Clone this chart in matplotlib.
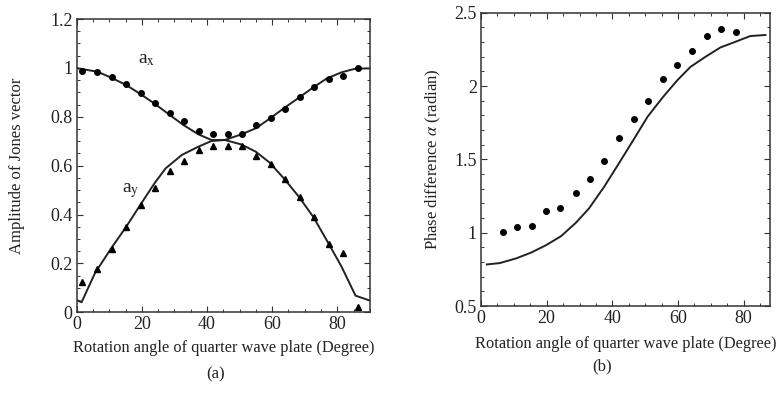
import matplotlib
matplotlib.use("Agg")
import matplotlib.pyplot as plt
from matplotlib.ticker import MultipleLocator

plt.rcParams['font.family'] = ['Liberation Serif', 'DejaVu Serif']
plt.rcParams['mathtext.fontset'] = 'stix'

# ---- panel (a): amplitude of Jones vector ----
angle_a = [1.7, 6.2, 10.7, 15.1, 19.6, 24.0, 28.5, 33.0, 37.4, 41.9,
           46.3, 50.8, 55.2, 59.7, 64.1, 68.6, 73.0, 77.5, 81.9, 86.4]
ax_meas = [0.989, 0.985, 0.964, 0.934, 0.896, 0.858, 0.814, 0.783, 0.743, 0.728,
           0.728, 0.728, 0.766, 0.794, 0.830, 0.880, 0.920, 0.956, 0.968, 0.998]
ay_meas = [0.125, 0.176, 0.258, 0.348, 0.439, 0.510, 0.580, 0.619, 0.664, 0.680,
           0.680, 0.682, 0.640, 0.605, 0.545, 0.473, 0.389, 0.280, 0.241, 0.020]

ax_curve_x = [0, 0.5, 6.5, 10.6, 15.2, 19.7, 24.2, 28.3, 32.8, 37.4, 41.4, 44.9,
              45.5, 50.5, 55.0, 59.1, 63.6, 68.2, 72.7, 76.8, 81.3, 85.3, 88.9, 90]
ax_curve_y = [1.0, 0.998, 0.984, 0.960, 0.930, 0.892, 0.851, 0.810, 0.766, 0.728, 0.705, 0.705,
              0.705, 0.728, 0.753, 0.791, 0.835, 0.878, 0.921, 0.957, 0.982, 0.996, 0.998, 0.998]

ay_curve_x = [0, 1.5, 5.6, 10.6, 15.2, 19.7, 24.0, 27.3, 32.3, 37.4, 41.4, 45.5,
              50.5, 55.0, 59.1, 63.6, 68.2, 72.7, 77.3, 81.3, 85.6, 88.9, 90]
ay_curve_y = [0.050, 0.041, 0.160, 0.262, 0.350, 0.443, 0.530, 0.589, 0.644, 0.678, 0.701, 0.705,
              0.687, 0.657, 0.614, 0.548, 0.473, 0.389, 0.282, 0.187, 0.068, 0.053, 0.048]

# ---- panel (b): phase difference ----
angle_b = [6.6, 10.9, 15.4, 19.8, 24.2, 28.8, 33.2, 37.6, 42.1, 46.6,
           50.9, 55.5, 59.8, 64.3, 68.9, 73.2, 77.7]
phase_meas = [1.005, 1.036, 1.045, 1.145, 1.166, 1.268, 1.366, 1.489, 1.648, 1.777,
              1.898, 2.048, 2.141, 2.240, 2.340, 2.389, 2.367]

phase_curve_x = [1.8, 5.7, 10.7, 15.3, 19.8, 24.4, 28.9, 32.9, 37.5, 42.0, 46.7,
                 50.7, 55.3, 59.8, 63.8, 68.4, 72.9, 77.5, 82.0, 86.6]
phase_curve_y = [0.784, 0.793, 0.825, 0.865, 0.915, 0.977, 1.068, 1.166, 1.313, 1.473, 1.643,
                 1.790, 1.922, 2.040, 2.131, 2.200, 2.263, 2.302, 2.341, 2.348]

ink = '#222222'
fig = plt.figure(figsize=(7.77, 3.97), dpi=100)


def style(ax):
    for s in ax.spines.values():
        s.set_linewidth(1.1)
        s.set_color('#333333')
    ax.tick_params(which='both', direction='in', top=True, right=True,
                   colors='#333333', labelcolor=ink, labelsize=13, pad=3)
    ax.tick_params(which='major', length=4, width=0.8)
    ax.tick_params(which='minor', length=2.5, width=0.7)


# (a)
ax1 = fig.add_axes([0.0987, 0.2134, 0.3773, 0.7386])
ax1.plot(ax_curve_x, ax_curve_y, color=ink, lw=1.4)
ax1.plot(ay_curve_x, ay_curve_y, color=ink, lw=1.4)
ax1.plot(angle_a, ax_meas, 'o', color='black', ms=4)
ax1.plot(angle_a, ay_meas, '^', color='black', ms=5)
ax1.set_xlim(0, 90)
ax1.set_ylim(0, 1.2)
ax1.xaxis.set_major_locator(MultipleLocator(20))
ax1.xaxis.set_minor_locator(MultipleLocator(5))
ax1.yaxis.set_minor_locator(MultipleLocator(0.05))
ax1.set_yticks([0, 0.2, 0.4, 0.6, 0.8, 1.0, 1.2])
ax1.set_yticklabels(['0', '0.2', '0.4', '0.6', '0.8', '1', '1.2'])
style(ax1)
ax1.text(18.8, 1.02, r'a$_\mathrm{x}$', fontsize=14, color=ink)
ax1.text(13.9, 0.49, r'a$_\mathrm{y}$', fontsize=14, color=ink)
ax1.set_ylabel('Amplitude of Jones vector', fontsize=12, color=ink, labelpad=18)
ax1.set_xlabel('Rotation angle of quarter wave plate (Degree)', fontsize=11.8,
               color=ink, labelpad=5)

# (b)
ax2 = fig.add_axes([0.619, 0.229, 0.372, 0.739])
ax2.plot(phase_curve_x, phase_curve_y, color=ink, lw=1.4)
ax2.plot(angle_b, phase_meas, 'o', color='black', ms=4)
ax2.set_xlim(0, 88)
ax2.set_ylim(0.5, 2.5)
ax2.xaxis.set_major_locator(MultipleLocator(20))
ax2.xaxis.set_minor_locator(MultipleLocator(5))
ax2.yaxis.set_minor_locator(MultipleLocator(0.1))
ax2.set_yticks([0.5, 1.0, 1.5, 2.0, 2.5])
ax2.set_yticklabels(['0.5', '1', '1.5', '2', '2.5'])
style(ax2)
ax2.set_ylabel(r'Phase difference $\alpha$ (radian)', fontsize=12, color=ink, labelpad=8)
ax2.set_xlabel('Rotation angle of quarter wave plate (Degree)', fontsize=11.8,
               color=ink, labelpad=6)

fig.text(0.277, 0.058, '(a)', ha='center', va='center', fontsize=12, color=ink)
fig.text(0.775, 0.076, '(b)', ha='center', va='center', fontsize=12, color=ink)

fig.savefig('out.png', dpi=100)
